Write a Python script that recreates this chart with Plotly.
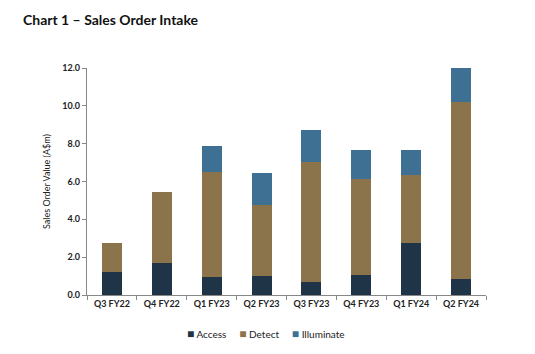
import plotly.graph_objects as go

categories = ["Q3 FY22", "Q4 FY22", "Q1 FY23", "Q2 FY23", "Q3 FY23", "Q4 FY23", "Q1 FY24", "Q2 FY24"]
access = [1.22, 1.69, 0.95, 1.00, 0.69, 1.06, 2.75, 0.85]
detect = [1.53, 3.75, 5.55, 3.76, 6.34, 5.07, 3.59, 9.35]
illuminate = [0.0, 0.0, 1.38, 1.69, 1.69, 1.54, 1.33, 1.80]
yticks = [0, 2, 4, 6, 8, 10, 12]
series_names = ["Access", "Detect", "Illuminate"]

colors = {"Access": "#1F3446", "Detect": "#8B744B", "Illuminate": "#3E7093"}
font_fam = "Lato, Open Sans, sans-serif"

fig = go.Figure()
for name, vals in zip(series_names, [access, detect, illuminate]):
    fig.add_trace(go.Bar(x=categories, y=vals, name=name, marker_color=colors[name],
                         marker_line_width=0, showlegend=False))

legend_text = "&nbsp;&nbsp;&nbsp;&nbsp;&nbsp;".join(
    f'<span style="color:{colors[n]};font-size:12px">■</span>&nbsp;{n}' for n in series_names)
fig.add_annotation(text=legend_text, xref="paper", yref="paper", x=(266 - 87) / 399,
                   xanchor="center", y=-38/227, yanchor="middle", showarrow=False,
                   font=dict(family=font_fam, size=10, color="#222"))

fig.update_layout(
    barmode="stack",
    bargap=0.6,
    width=535, height=354,
    margin=dict(l=87, r=49, t=68, b=59, autoexpand=False),
    paper_bgcolor="white", plot_bgcolor="white",
    showlegend=False,
    title=dict(text="<b>Chart 1 – Sales Order Intake</b>", x=23/535, xanchor="left",
               y=1-20/354, yanchor="middle",
               font=dict(family=font_fam, size=14, color="#111")),
    font=dict(family=font_fam),
)
fig.update_xaxes(showline=True, linecolor="#888", linewidth=1.3, ticks="outside",
                 tickson="boundaries", ticklen=4, tickcolor="#888",
                 tickfont=dict(family=font_fam, size=9, color="#222", weight="bold"))
fig.update_yaxes(range=[0, 12], tickvals=yticks, ticktext=[f"{v:.1f}" for v in yticks],
                 showline=True, linecolor="#888", linewidth=1.3, ticks="outside",
                 ticklen=4, tickcolor="#888", showgrid=False, zeroline=False,
                 tickfont=dict(family=font_fam, size=9, color="#222", weight="bold"),
                 title=dict(text="Sales Order Value (A$m)", standoff=10,
                            font=dict(family=font_fam, size=9, color="#222")))
fig.write_html("out.html")
